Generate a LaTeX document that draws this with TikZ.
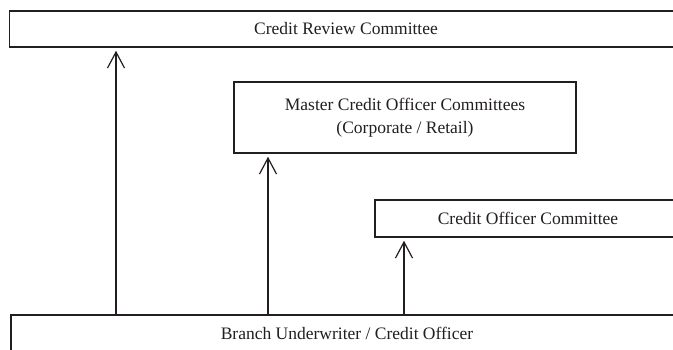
\documentclass[tikz,border=0pt]{standalone}
\usepackage{fontspec}
\setmainfont{Liberation Serif}
\usetikzlibrary{arrows.meta}
\definecolor{ink}{HTML}{231F20}
\begin{document}
\begin{tikzpicture}[x=1pt,y=-1pt,
  box/.style={draw=ink, line width=1.5pt, rectangle, inner sep=0pt, align=center,
    text=ink, font=\fontsize{17.5}{22.5}\selectfont},
  arr/.style={draw=ink, line width=1.2pt, -{Straight Barb[length=16pt,width=17pt]}, shorten >=3pt}]
\useasboundingbox (0,0) rectangle (673,349);
\clip (0,0) rectangle (673,349);
\fill[white] (0,0) rectangle (673,349);
\node[box, minimum width=673pt, minimum height=36pt] (crc) at (346,29) {Credit Review Committee};
\node[box, minimum width=342pt, minimum height=71pt] (mcoc) at (405,117.5) {Master Credit Officer Committees\\(Corporate / Retail)};
\node[box, minimum width=306pt, minimum height=37pt] (coc) at (528,218.5) {Credit Officer Committee};
\node[box, anchor=north, minimum width=672pt, inner ysep=12pt, text depth=30pt] (bot) at (347,314) {Branch Underwriter / Credit Officer};
\coordinate (a1) at (116,0);
\coordinate (a2) at (268,0);
\coordinate (a3) at (404,0);
\draw[arr] (a1 |- bot.north) -- (a1 |- crc.south);
\draw[arr] (a2 |- bot.north) -- (a2 |- mcoc.south);
\draw[arr] (a3 |- bot.north) -- (a3 |- coc.south);
\end{tikzpicture}
\end{document}
